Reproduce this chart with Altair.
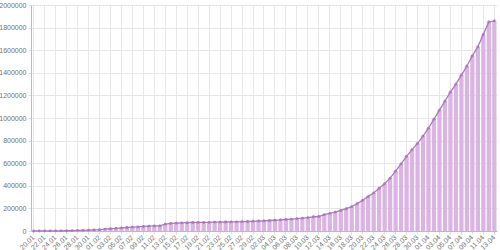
import altair as alt
import pandas as pd

dates = [
    "20.01", "21.01", "22.01", "23.01", "24.01", "25.01", "26.01", "27.01", "28.01", "29.01", "30.01", "31.01",
    "01.02", "02.02", "03.02", "04.02", "05.02", "06.02", "07.02", "08.02", "09.02", "10.02", "11.02", "12.02",
    "13.02", "14.02", "15.02", "16.02", "17.02", "18.02", "19.02", "20.02", "21.02", "22.02", "23.02", "24.02",
    "25.02", "26.02", "27.02", "28.02", "29.02",
    "01.03", "02.03", "03.03", "04.03", "05.03", "06.03", "07.03", "08.03", "09.03", "10.03", "11.03", "12.03",
    "13.03", "14.03", "15.03", "16.03", "17.03", "18.03", "19.03", "20.03", "21.03", "22.03", "23.03", "24.03",
    "25.03", "26.03", "27.03", "28.03", "29.03", "30.03", "31.03",
    "01.04", "02.04", "03.04", "04.04", "05.04", "06.04", "07.04", "08.04", "09.04", "10.04", "11.04", "12.04",
    "13.04",
]
cases = [
    282, 314, 555, 654, 941, 1434, 2118, 2927, 5578, 6166, 8234, 9927,
    12038, 16787, 19881, 23892, 27635, 30794, 34391, 37120, 40150, 42762, 44802, 45221,
    60368, 66885, 69030, 71224, 73258, 75136, 75639, 76197, 76819, 78572, 78958, 79561,
    80406, 81388, 82746, 84112, 86011,
    88369, 90306, 92840, 95120, 97886, 101801, 105847, 109821, 113590, 118620, 125875, 128352,
    145205, 156101, 167454, 181574, 197102, 214821, 242570, 272208, 304507, 336953, 378235, 418045,
    467653, 529591, 593291, 660706, 720117, 775000, 840000,
    910000, 990000, 1070000, 1150000, 1230000, 1300000, 1380000, 1460000, 1550000, 1630000, 1740000, 1850000,
    1860000,
]
y_ticks = list(range(0, 2000001, 200000))
x_labels = dates[::2]

df = pd.DataFrame({"date": dates, "cases": cases})

x_enc = alt.X(
    "date:N",
    sort=dates,
    title=None,
    scale=alt.Scale(paddingInner=0.22, paddingOuter=0.1),
    axis=alt.Axis(
        values=x_labels,
        labelAngle=-45,
        labelAlign="right",
        labelBaseline="middle",
        labelFontSize=7,
        labelColor="#707070",
        labelFont="Liberation Sans",
        labelPadding=2,
        tickSize=3,
        tickColor="#dddddd",
        domainColor="#bbbbbb",
        gridColor="#e6e6e6",
        grid=True,
        labelOverlap=False,
        labelBound=False,
    ),
)
y_enc = alt.Y(
    "cases:Q",
    title=None,
    scale=alt.Scale(domain=[0, 2000000], nice=False),
    axis=alt.Axis(
        values=y_ticks,
        labelFontSize=7,
        labelColor="#707070",
        labelFont="Liberation Sans",
        labelPadding=2,
        tickSize=3,
        tickColor="#dddddd",
        domainColor="#bbbbbb",
        gridColor="#e6e6e6",
        format="d",
        labelOverlap=False,
        labelBound=False,
        labelFlush=False,
    ),
)

base = alt.Chart(df).encode(x=x_enc, y=y_enc)
bars = base.mark_bar(color="#dab4e2")
line = base.mark_line(
    color="#ac78bd", strokeWidth=1.3,
    point=alt.OverlayMarkDef(color="#ac78bd", size=8, filled=True),
)

chart = (
    alt.layer(bars, line)
    .properties(
        width=466,
        height=226,
        autosize=alt.AutoSizeParams(type="none"),
        padding={"left": 31, "top": 5, "right": 3, "bottom": 19},
        background="white",
    )
    .configure_view(stroke=None)
)

chart.save("out.html", embed_options={"renderer": "svg", "actions": False})
